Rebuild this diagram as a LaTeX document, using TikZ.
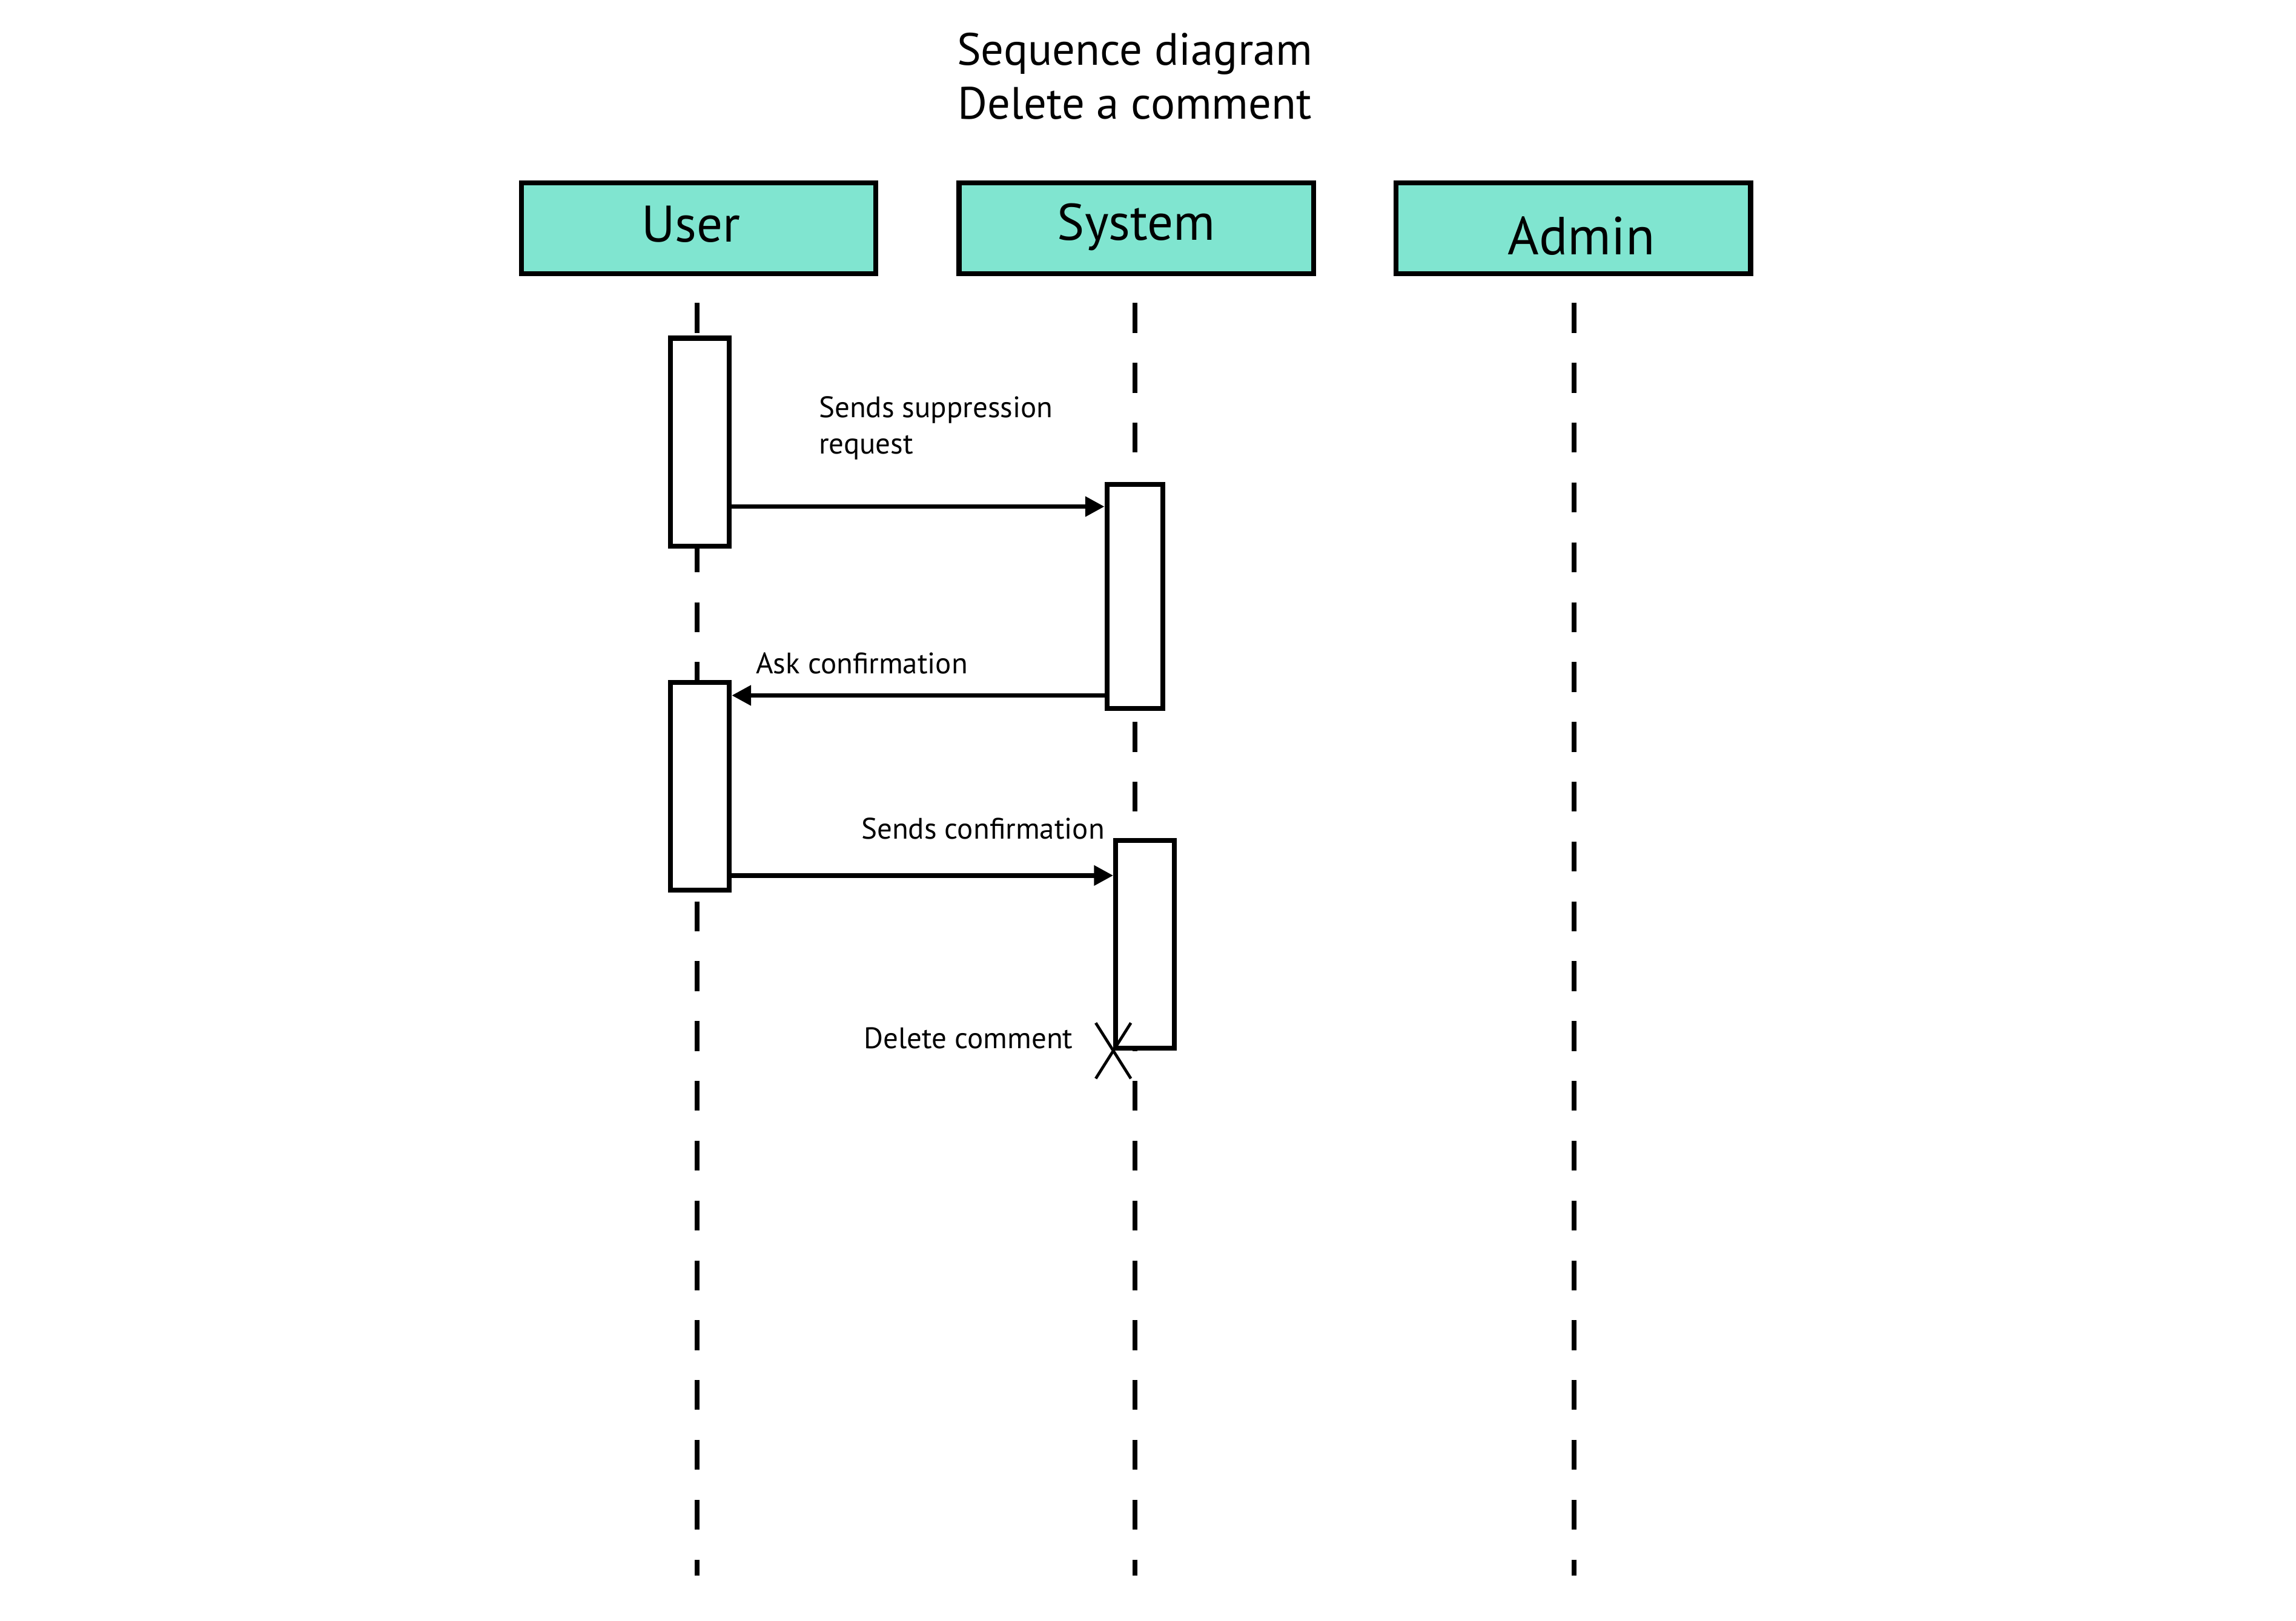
\documentclass[tikz,border=0pt]{standalone}
\usepackage{fontspec}
\setmainfont{PT Sans}
\usetikzlibrary{arrows.meta}
\definecolor{actorfill}{RGB}{128,229,208}
\begin{document}
\begin{tikzpicture}[x=0.025cm,y=-0.025cm,
  actorbox/.style={draw=black, line width=2.4pt, fill=actorfill, minimum width=6.05cm, minimum height=1.55cm, inner sep=0pt},
  actorlbl/.style={font=\fontsize{25}{30}\selectfont, inner sep=0pt},
  actbox/.style={draw=black, line width=2.4pt, fill=white, inner sep=0pt},
  lifeline/.style={line width=2.3pt, dash pattern=on 0.51cm off 0.5115cm},
  msg/.style={line width=2.3pt, -{Triangle[length=0.33cm, width=0.33cm]}},
  msglabel/.style={font=\fontsize{14.4}{17.7}\selectfont, inner sep=0pt, align=left},
  xmark/.style={line width=1.4pt}
]
\useasboundingbox (0,0) rectangle (1568,1107);
% title
\node[font=\fontsize{22}{26.2}\selectfont, align=center] (title) at (775,52) {Sequence diagram\\Delete a comment};
% actors
\node[actorbox] (user) at (477,156) {};
\node[actorbox] (system) at (776,156) {};
\node[actorbox] (admin) at (1074.5,156) {};
\node[actorlbl] (userlbl) at (472,153) {User};
\node[actorlbl] (systemlbl) at (776,155) {System};
\node[actorlbl, font=\fontsize{26}{30}\selectfont] (adminlbl) at (1080,161) {Admin};
% lifeline ends
\coordinate (ul0) at (476,207); \coordinate (ul1) at (476,1076);
\coordinate (sl0) at (775,207); \coordinate (sl1) at (775,1076);
\coordinate (al0) at (1075,207); \coordinate (al1) at (1075,1076);
\draw[lifeline] (ul0) -- (ul1);
\draw[lifeline] (sl0) -- (sl1);
\draw[lifeline] (al0) -- (al1);
% activation boxes
\node[actbox, minimum width=1.0cm, minimum height=3.55cm] (ua1) at (478,302) {};
\node[actbox, minimum width=0.95cm, minimum height=3.825cm] (sa1) at (775,407.5) {};
\node[actbox, minimum width=1.0cm, minimum height=3.55cm] (ua2) at (478,537) {};
\node[actbox, minimum width=1.0cm, minimum height=3.55cm] (sa2) at (782,645) {};
% messages
\coordinate (m1) at (0,346);
\coordinate (m2) at (0,475);
\coordinate (m3) at (0,598);
\draw[msg] (ua1.east |- m1) -- (sa1.west |- m1);
\draw[msg] (sa1.west |- m2) -- (ua2.east |- m2);
\draw[msg] (ua2.east |- m3) -- (sa2.west |- m3);
% labels
\node[msglabel, anchor=west] (l1) at (559,292.5) {Sends suppression\\request};
\node[msglabel, anchor=west] (l2) at (516,453) {Ask confirmation};
\node[msglabel, anchor=west] (l3) at (588,566) {Sends confirmation};
\node[msglabel, anchor=east] (l4) at (733,709) {Delete comment};
% destruction mark
\coordinate (xc) at (sa2.south west);
\draw[xmark] ([shift={(-12,-19)}]xc) -- ([shift={(12,19)}]xc);
\draw[xmark] ([shift={(12,-19)}]xc) -- ([shift={(-12,19)}]xc);
\end{tikzpicture}
\end{document}
